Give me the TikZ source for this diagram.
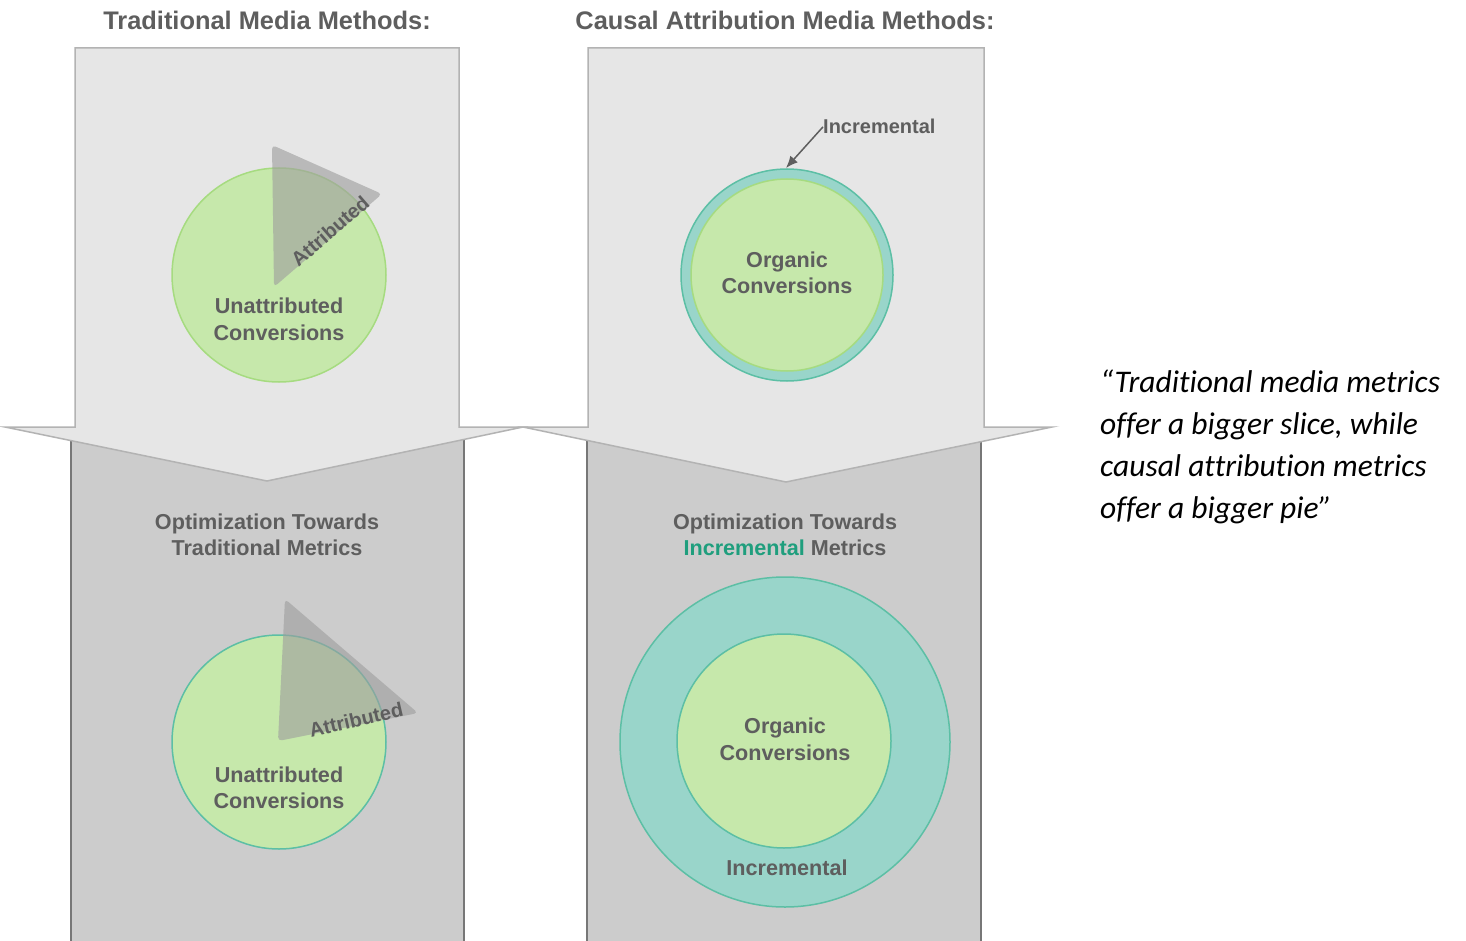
\documentclass[tikz,border=0pt]{standalone}
\usepackage{fontspec}
\setmainfont{Liberation Sans}
\newfontfamily\quotefont[Ligatures=NoCommon]{Carlito}
\usetikzlibrary{arrows.meta}
\definecolor{arrowfill}{HTML}{E6E6E6}
\definecolor{arrowline}{HTML}{B3B3B3}
\definecolor{lowfill}{HTML}{CCCCCC}
\definecolor{lowline}{HTML}{777777}
\definecolor{greenfill}{HTML}{C6E8AB}
\definecolor{greenline}{HTML}{A6DB80}
\definecolor{tealfill}{HTML}{99D5CA}
\definecolor{tealline}{HTML}{5CBFA5}
\definecolor{labelgray}{HTML}{5E5E5E}
\definecolor{tealtext}{HTML}{1F9E7D}
\definecolor{slicegray}{HTML}{9E9E9E}
\tikzset{
  bigarrow/.style={fill=arrowfill, draw=arrowline, line width=1.5pt},
  lowpanel/.style={fill=lowfill},
  lowedge/.style={draw=lowline, line width=1.6pt},
  greencirc/.style={circle, inner sep=0pt, fill=greenfill, draw=greenline, line width=1.5pt},
  greentealcirc/.style={circle, inner sep=0pt, fill=greenfill, draw=tealline, line width=1.5pt},
  tealcirc/.style={circle, inner sep=0pt, fill=tealfill, draw=tealline, line width=1.5pt},
  slice/.style={fill=slicegray, fill opacity=0.62, rounded corners=4pt},
  title/.style={font=\bfseries\fontsize{25.4}{30}\selectfont, text=labelgray, inner sep=0pt, anchor=base},
  lbl/.style={font=\bfseries\fontsize{21.6}{26}\selectfont, text=labelgray, inner sep=0pt, anchor=base},
  slicelbl/.style={font=\bfseries\fontsize{20}{24}\selectfont, text=labelgray, inner sep=0pt},
  quoteline/.style={font=\quotefont\itshape\fontsize{31.5}{42}\selectfont, text=black, inner sep=0pt, anchor=base west},
  pointer/.style={draw=labelgray, line width=1.5pt, -{Latex[length=12pt,width=10pt]}}
}
\begin{document}
\begin{tikzpicture}[x=1pt,y=-1pt]
\useasboundingbox (0,0) rectangle (1466,941);
\fill[white] (0,0) rectangle (1466,941);

% lower panels
\fill[lowpanel] (71,435) rectangle (464,945);
\draw[lowedge] (71,435) -- (71,945) (464,435) -- (464,945);
\fill[lowpanel] (587,435) rectangle (981,945);
\draw[lowedge] (587,435) -- (587,945) (981,435) -- (981,945);

% top arrows
\draw[bigarrow] (75,48) -- (459,48) -- (459,427) -- (523,427) -- (267,481) -- (5,427) -- (75,427) -- cycle;
\draw[bigarrow] (588,48) -- (984,48) -- (984,427) -- (1052,427) -- (786,482) -- (523,427) -- (588,427) -- cycle;

% titles
\node[title] (t1) at (267,30) {Traditional Media Methods:};
\node[title] (t2) at (785,30) {Causal Attribution Media Methods:};

% top-left pie
\node[greencirc, minimum size=214pt] (tl) at (279,275) {};
\fill[slice] (272,145) -- (382,194) -- (274,287) -- cycle;
\node[slicelbl, rotate=41] (tlattr) at (330,231) {Attributed};
\node[lbl] (tlu1) at (279,313) {Unattributed};
\node[lbl] (tlu2) at (279,340) {Conversions};

% top-right circles
\node[tealcirc, minimum size=212pt] (trout) at (787,275) {};
\node[greencirc, minimum size=192pt] (trin) at (787,275) {};
\node[lbl] (tro1) at (787,267) {Organic};
\node[lbl] (tro2) at (787,293) {Conversions};
\node[font=\bfseries\fontsize{20}{24}\selectfont, text=labelgray, inner sep=0pt, anchor=base west] (inclbl) at (823,134) {Incremental};
\coordinate (inctop) at (786,168);
\draw[pointer] (inclbl.west) -- (inctop);

% lower headings
\node[lbl] (bl1) at (267,529) {Optimization Towards};
\node[lbl] (bl2) at (267,555) {Traditional Metrics};
\node[lbl] (br1) at (785,529) {Optimization Towards};
\node[lbl] (br2) at (785,555) {\textcolor{tealtext}{Incremental} Metrics};

% bottom-left pie
\node[greentealcirc, minimum size=214pt] (bl) at (279,742) {};
\fill[slice] (285,599) -- (418,713) -- (278,741) -- cycle;
\node[slicelbl, rotate=13] (blattr) at (356,720) {Attributed};
\node[lbl] (blu1) at (279,782) {Unattributed};
\node[lbl] (blu2) at (279,808) {Conversions};

% bottom-right circles
\node[tealcirc, minimum size=330pt] (brout) at (785,742) {};
\node[greentealcirc, minimum size=214pt] (brin) at (784,741) {};
\node[lbl] (bro1) at (785,733) {Organic};
\node[lbl] (bro2) at (785,760) {Conversions};
\node[lbl] (brinc) at (787,875) {Incremental};

% quote
\node[quoteline] (q1) at (1100,392) {“Traditional media metrics};
\node[quoteline] (q2) at (1100,434) {offer a bigger slice, while};
\node[quoteline] (q3) at (1100,476) {causal attribution metrics};
\node[quoteline] (q4) at (1100,518) {offer a bigger pie”};
\end{tikzpicture}
\end{document}
